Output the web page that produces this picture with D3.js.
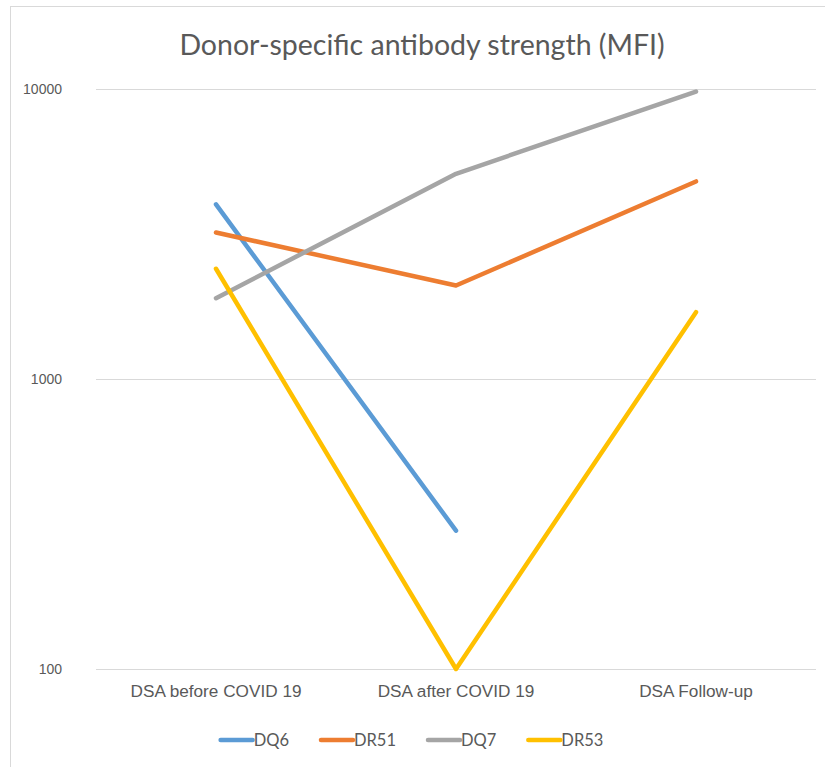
<!DOCTYPE html>
<html>
<head>
<meta charset="utf-8">
<title>Donor-specific antibody strength (MFI)</title>
<script src="https://d3js.org/d3.v7.min.js"></script>
<style>
  body { margin: 0; background: #fff; font-family: Lato, 'Open Sans', sans-serif; }
  .grid line { stroke: #d9d9d9; stroke-width: 1; }
  .tick text { fill: #595959; }
</style>
</head>
<body>
<div id="chart"></div>
<script>
// categories on the x axis
var categories = ["DSA before COVID 19", "DSA after COVID 19", "DSA Follow-up"];
// series values (MFI), null = no value
var dq6 = [4000, 300, null];
var dr51 = [3200, 2100, 4800];
var dq7 = [1900, 5100, 9800];
var dr53 = [2400, 100, 1700];
var seriesNames = ["DQ6", "DR51", "DQ7", "DR53"];
var seriesColors = ["#5b9bd5", "#ed7d31", "#a5a5a5", "#ffc000"];
var yTicks = [100, 1000, 10000];

var series = [dq6, dr51, dq7, dr53].map(function(v, i) {
  return { name: seriesNames[i], color: seriesColors[i], values: v };
});

var width = 825, height = 767;
var margin = { top: 89, right: 9, bottom: 98, left: 96 };

var svg = d3.select("#chart").append("svg")
  .attr("width", width)
  .attr("height", height);

// chart frame (only top and left edges are visible)
svg.append("rect")
  .attr("x", 10.5).attr("y", 6.5)
  .attr("width", 840).attr("height", 800)
  .attr("fill", "none")
  .attr("stroke", "#d9d9d9");

var x = d3.scaleBand()
  .domain(categories)
  .range([margin.left, width - margin.right]);

var y = d3.scaleLog()
  .domain([100, 10000])
  .range([height - margin.bottom, margin.top]);

// gridlines
svg.append("g")
  .attr("class", "grid")
  .selectAll("line")
  .data(yTicks)
  .enter().append("line")
  .attr("x1", margin.left)
  .attr("x2", width - margin.right)
  .attr("y1", function(d) { return Math.round(y(d)) + 0.5; })
  .attr("y2", function(d) { return Math.round(y(d)) + 0.5; });

// y axis labels
var yAxis = d3.axisLeft(y)
  .tickValues(yTicks)
  .tickFormat(d3.format("d"))
  .tickSize(0)
  .tickPadding(34);
svg.append("g")
  .attr("transform", "translate(" + margin.left + ",0)")
  .call(yAxis)
  .call(function(g) {
    g.select(".domain").remove();
    g.selectAll("text").style("font-size", "14px");
  });

// x axis labels
var xAxis = d3.axisBottom(x).tickSize(0).tickPadding(16);
svg.append("g")
  .attr("transform", "translate(0," + (height - margin.bottom) + ")")
  .call(xAxis)
  .call(function(g) {
    g.select(".domain").remove();
    g.selectAll("text").style("font-size", "17.2px");
  });

// title
svg.append("text")
  .attr("x", 422)
  .attr("y", 55)
  .attr("text-anchor", "middle")
  .attr("fill", "#595959")
  .style("font-size", "28.5px")
  .text("Donor-specific antibody strength (MFI)");

// lines
var line = d3.line()
  .defined(function(d) { return d != null; })
  .x(function(d, i) { return x(categories[i]) + x.bandwidth() / 2; })
  .y(function(d) { return y(d); });

svg.append("g").selectAll("path")
  .data(series)
  .enter().append("path")
  .attr("fill", "none")
  .attr("stroke", function(d) { return d.color; })
  .attr("stroke-width", 4.5)
  .attr("stroke-linecap", "round")
  .attr("stroke-linejoin", "round")
  .attr("d", function(d) { return line(d.values); });

// legend, laid out from the measured text widths and centred
var legend = svg.append("g").selectAll("g")
  .data(series)
  .enter().append("g");
legend.append("line")
  .attr("x1", 0).attr("x2", 32)
  .attr("stroke", function(d) { return d.color; })
  .attr("stroke-width", 4.5)
  .attr("stroke-linecap", "round");
legend.append("text")
  .attr("x", 33)
  .attr("dy", "0.35em")
  .attr("fill", "#595959")
  .style("font-size", "16.5px")
  .text(function(d) { return d.name; });

var itemW = [];
legend.each(function() { itemW.push(33 + this.querySelector("text").getComputedTextLength()); });
var gap = 32;
var total = d3.sum(itemW) + gap * (itemW.length - 1);
var pos = 412 - total / 2;
legend.attr("transform", function(d, i) {
  var p = pos;
  pos += itemW[i] + gap;
  return "translate(" + p + ",740)";
});
</script>
</body>
</html>
